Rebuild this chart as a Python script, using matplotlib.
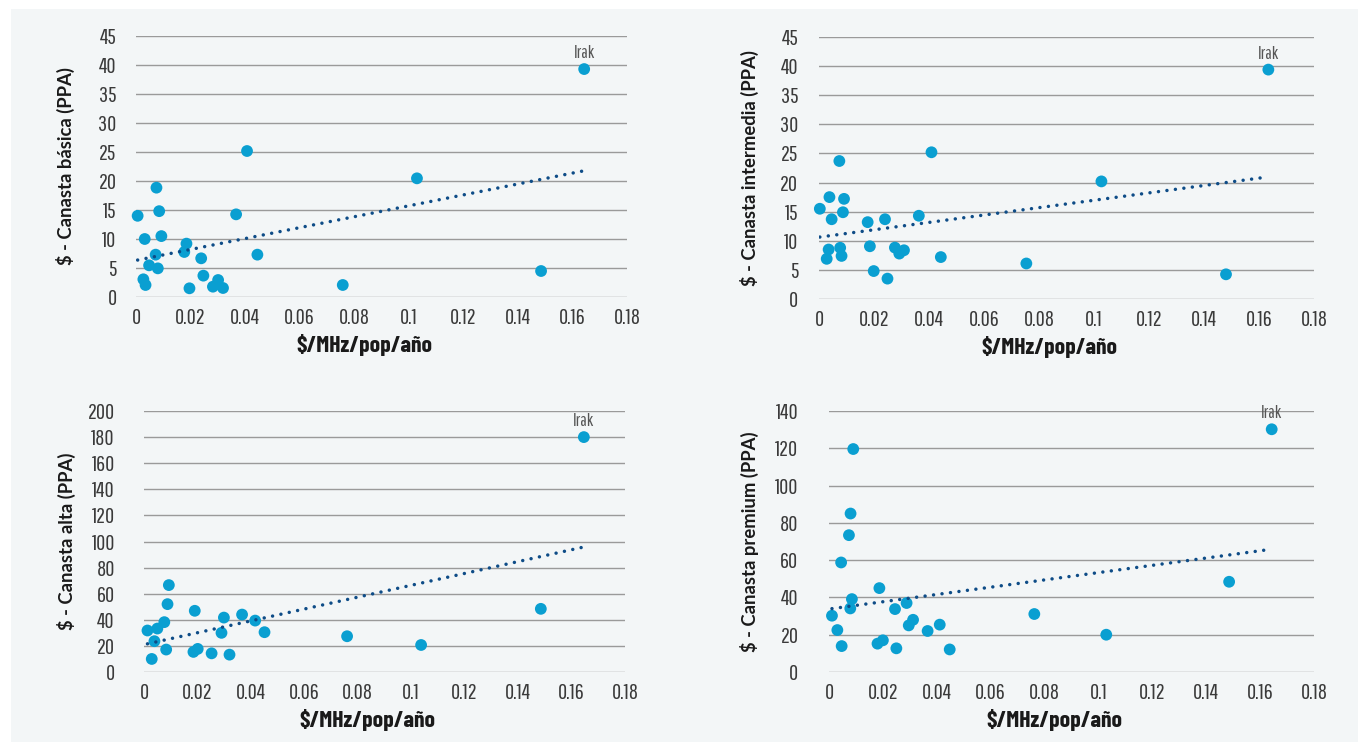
import numpy as np
import matplotlib
matplotlib.use("Agg")
import matplotlib.pyplot as plt
from matplotlib import font_manager
from matplotlib.patches import Rectangle
from matplotlib.ticker import FixedLocator

# spectrum price per MHz per pop per year (x) for each basket
x_basica = [0.0006, 0.0032, 0.0027, 0.0035, 0.0048, 0.0072, 0.0075, 0.0080, 0.0085,
            0.0093, 0.0177, 0.0185, 0.0196, 0.0239, 0.0247, 0.0282, 0.0301, 0.0319,
            0.0367, 0.0407, 0.0445, 0.0758, 0.1030, 0.1485, 0.1643]
y_basica = [14.0, 10.0, 3.05, 2.07, 5.46, 7.3, 18.85, 4.94, 14.8,
            10.5, 7.76, 9.2, 1.5, 6.67, 3.68, 1.78, 2.93, 1.55,
            14.25, 25.17, 7.3, 2.07, 20.46, 4.48, 39.3]

x_intermedia = [0.0003, 0.0028, 0.0035, 0.0038, 0.0046, 0.0074, 0.0077, 0.0082, 0.0087,
                0.0091, 0.0177, 0.0185, 0.0199, 0.0240, 0.0249, 0.0276, 0.0292, 0.0309,
                0.0363, 0.0409, 0.0443, 0.0754, 0.1027, 0.1480, 0.1634]
y_intermedia = [15.5, 6.9, 8.5, 17.5, 13.7, 23.7, 8.8, 7.4, 14.9,
                17.2, 13.2, 9.06, 4.8, 13.7, 3.5, 8.83, 7.8, 8.37,
                14.3, 25.2, 7.2, 6.1, 20.2, 4.24, 39.4]

x_alta = [0.0013, 0.0029, 0.0039, 0.0050, 0.0076, 0.0083, 0.0088, 0.0093, 0.0185,
          0.0190, 0.0201, 0.0253, 0.0290, 0.0299, 0.0320, 0.0367, 0.0416, 0.0451,
          0.0760, 0.1037, 0.1485, 0.1646]
y_alta = [31.8, 10.0, 23.6, 33.3, 38.2, 17.2, 52.0, 66.6, 15.4,
          46.9, 17.7, 14.3, 30.0, 41.7, 13.3, 44.0, 39.4, 30.5,
          27.4, 20.7, 48.4, 180.0]

x_premium = [0.0011, 0.0031, 0.0045, 0.0047, 0.0074, 0.0079, 0.0080, 0.0085, 0.0090,
             0.0180, 0.0187, 0.0200, 0.0245, 0.0250, 0.0288, 0.0296, 0.0312, 0.0366,
             0.0411, 0.0448, 0.0762, 0.1029, 0.1485, 0.1643]
y_premium = [30.2, 22.5, 58.75, 13.9, 73.4, 34.1, 85.0, 39.1, 119.6,
             15.2, 45.0, 17.0, 33.75, 12.7, 37.0, 25.0, 28.0, 22.0,
             25.4, 12.1, 31.1, 20.0, 48.4, 130.2]

y_labels = ["$ - Canasta básica (PPA)", "$ - Canasta intermedia (PPA)",
            "$ - Canasta alta (PPA)", "$ - Canasta premium (PPA)"]
x_label = "$/MHz/pop/año"
x_ticks = [0, 0.02, 0.04, 0.06, 0.08, 0.1, 0.12, 0.14, 0.16, 0.18]
x_tick_labels = ["0", "0.02", "0.04", "0.06", "0.08", "0.1", "0.12", "0.14", "0.16", "0.18"]
y_ticks = [list(range(0, 50, 5)), list(range(0, 50, 5)),
           list(range(0, 220, 20)), list(range(0, 160, 20))]
outlier_name = "Irak"

DOT = "#0a9fd1"
TREND = "#0e4c87"
GRID = "#9a9a9a"

installed = {f.name for f in font_manager.fontManager.ttflist}


def pick(*names):
    return [n for n in names if n in installed] + ["DejaVu Sans"]


TICK_FONT = pick("Pathway Gothic One", "Sofia Sans Extra Condensed", "Barlow Condensed",
                 "Roboto Condensed")
XLAB_FONT = pick("Barlow Condensed", "Roboto Condensed", "Archivo Narrow")
YLAB_FONT = pick("Lato", "Open Sans")

W, H = 1358, 742
fig = plt.figure(figsize=(W / 100, H / 100), dpi=100, facecolor="white")
fig.patches.append(Rectangle((11 / W, 0), 1, 1 - 9 / H, transform=fig.transFigure,
                             facecolor="#f3f6f7", edgecolor="none", zorder=-10))

# axes boxes in pixels: left, right(0.18), top, bottom(0)
boxes = [(136, 627, 36, 297), (819, 1314, 37, 299),
         (144, 625, 411, 672), (829, 1314, 411, 672)]
ylabel_px = [65, 749, 66, 749]
ytick_pad = [14, 15, 21, 22]

series = [(x_basica, y_basica), (x_intermedia, y_intermedia),
          (x_alta, y_alta), (x_premium, y_premium)]

for i, ((xs, ys), (l, r, t, b)) in enumerate(zip(series, boxes)):
    ax = fig.add_axes([l / W, 1 - b / H, (r - l) / W, (b - t) / H])
    ax.set_facecolor("none")
    xs = np.array(xs)
    ys = np.array(ys)

    ax.scatter(xs, ys, s=72, color=DOT, edgecolors="none", zorder=3, clip_on=False)

    # linear trend line
    k, c = np.polyfit(xs, ys, 1)
    tx = np.array([xs.min(), xs.max()])
    ax.plot(tx, k * tx + c, color=TREND, linewidth=2.5,
            linestyle=(0, (0.01, 2.45)), dash_capstyle="round", zorder=4)

    j = int(np.argmax(ys))
    ax.annotate(outlier_name, (xs[j], ys[j]), xytext=(0, 11.5), textcoords="offset points",
                ha="center", va="center", fontsize=13, color="#555555",
                family=TICK_FONT, zorder=5)

    ax.set_xlim(0, 0.18)
    ax.set_ylim(0, y_ticks[i][-1])
    ax.xaxis.set_major_locator(FixedLocator(x_ticks))
    ax.set_xticklabels(x_tick_labels)
    ax.set_yticks(y_ticks[i])
    ax.grid(axis="y", color=GRID, linewidth=1.0)
    ax.set_axisbelow(True)
    for s in ax.spines.values():
        s.set_visible(False)
    ax.tick_params(length=0, labelsize=16, labelcolor="#3a3a3a")
    ax.tick_params(axis="x", pad=8)
    ax.tick_params(axis="y", pad=ytick_pad[i])
    for lab in ax.get_xticklabels() + ax.get_yticklabels():
        lab.set_family(TICK_FONT)

    ax.set_xlabel(x_label, fontsize=17, fontweight="bold", color="#1a1a1a",
                  family=XLAB_FONT, va="center")
    ax.xaxis.set_label_coords(0.465, -48 / (b - t))
    ax.set_ylabel(y_labels[i], fontsize=13.3, fontweight="bold", color="#1a1a1a",
                  family=YLAB_FONT, va="center", ha="center")
    ax.yaxis.set_label_coords((ylabel_px[i] - l) / (r - l), 0.5)

fig.savefig("out.png", dpi=100, facecolor="white")
